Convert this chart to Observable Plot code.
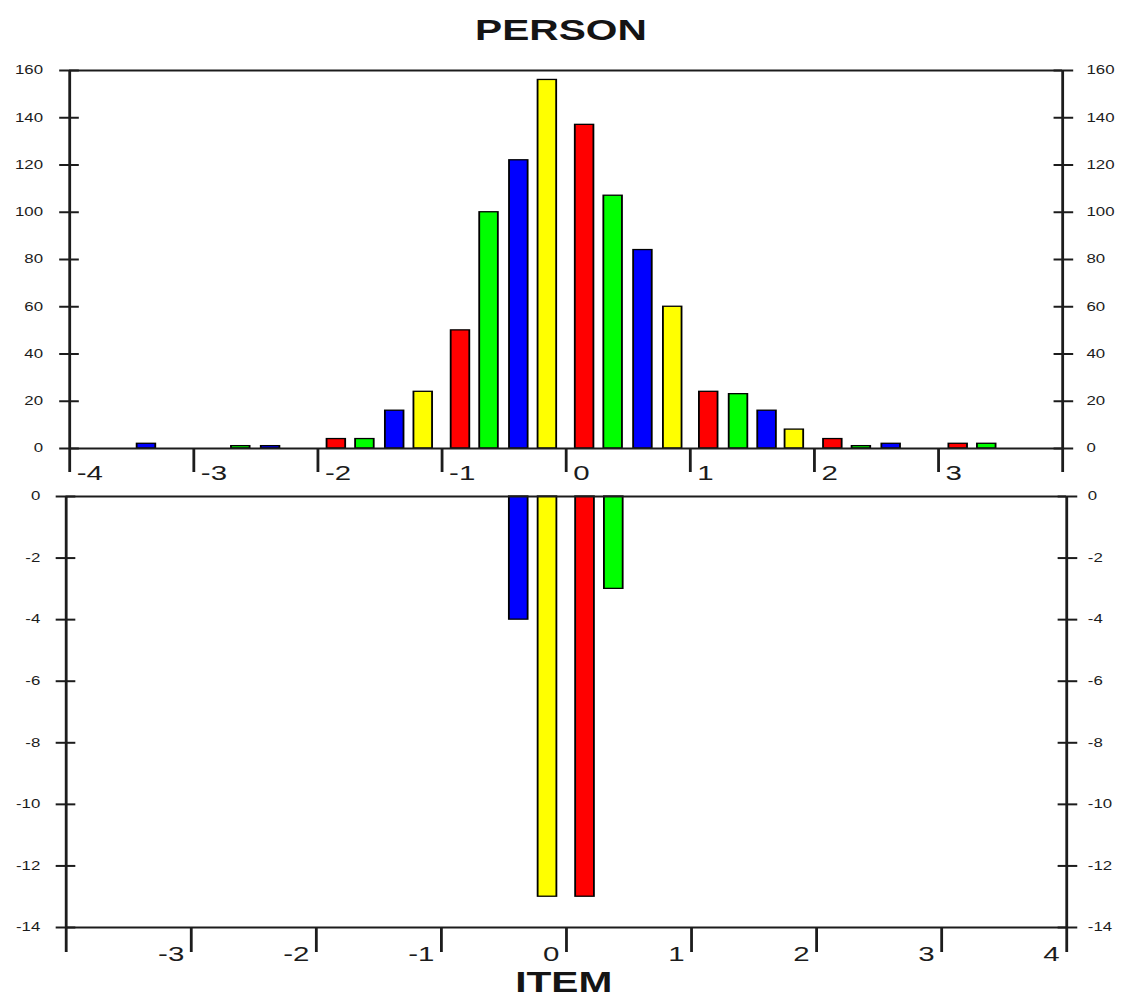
<!DOCTYPE html>
<html>
<head>
<meta charset="utf-8">
<script src="https://cdn.jsdelivr.net/npm/d3@7"></script>
<script src="https://cdn.jsdelivr.net/npm/@observablehq/plot@0.6"></script>
<style>
  html, body { margin: 0; padding: 0; background: #fff; overflow: hidden; }
  /* the map is laid out 800 wide and stretched across the 1122 px window */
  #stage {
    position: relative; width: 800px; height: 999px;
    transform: scaleX(1.4025); transform-origin: 0 0;
    font-family: "Liberation Sans", Arial, sans-serif; color: #141414;
  }
  #stage svg { position: absolute; left: 0; overflow: visible; background: transparent; }
  .heading {
    position: absolute; left: 0; width: 800px; text-align: center;
    font-weight: bold; font-size: 29px; line-height: 29px; white-space: nowrap;
  }
</style>
</head>
<body>
<div id="stage">
  <div class="heading" style="top:15.5px">PERSON</div>
  <div class="heading" style="top:968px;left:2px">ITEM</div>
</div>
<script>
// Person distribution (counts per measure bin, upper panel)
const personMeasure = [-3.38, -2.62, -2.38, -1.85, -1.62, -1.38, -1.15,
  -0.85, -0.62, -0.38, -0.15, 0.15, 0.38, 0.62, 0.86,
  1.15, 1.39, 1.62, 1.84, 2.15, 2.38, 2.62, 3.16, 3.39];
const personCount = [2, 1, 1, 4, 4, 16, 24,
  50, 100, 122, 156, 137, 107, 84, 60,
  24, 23, 16, 8, 4, 1, 2, 2, 2];

// Item distribution (drawn downward, lower panel)
const itemMeasure = [-0.38, -0.15, 0.15, 0.38];
const itemCount = [-4, -13, -13, -3];

// Axis ticks
const measureTicks = [-4, -3, -2, -1, 0, 1, 2, 3, 4];
const personTicks = [0, 20, 40, 60, 80, 100, 120, 140, 160];
const itemTicks = [0, -2, -4, -6, -8, -10, -12, -14];

const person = personMeasure.map((x, i) => ({x, count: personCount[i]}));
const item = itemMeasure.map((x, i) => ({x, count: itemCount[i]}));

// bars cycle red, green, blue, yellow across the quarters of each logit unit
const quarterColors = ["#ff0000", "#00ff00", "#0000ff", "#ffff00"];
const quarter = (x) => Math.floor((x - Math.floor(x)) * 4);
const halfBar = 0.075;
const ink = "#1c1c1c";
const fmt = (d) => String(d);

function bars(data) {
  return Plot.rectY(data, {
    x1: (d) => d.x - halfBar,
    x2: (d) => d.x + halfBar,
    y1: 0,
    y2: "count",
    fill: (d) => quarterColors[quarter(d.x)],
    stroke: "#000",
    strokeWidth: 1.3
  });
}

function yAxes(ticks, padLeft, padRight) {
  return [
    Plot.axisY(ticks, {anchor: "left", tickSize: 14, dx: 7, fill: "none", stroke: ink, strokeWidth: 2, label: null}),
    Plot.axisY(ticks, {anchor: "left", tickSize: 0, tickPadding: padLeft, stroke: "none", fill: ink, fontSize: 12, tickFormat: fmt, label: null}),
    Plot.axisY(ticks, {anchor: "right", tickSize: 14, dx: -7, fill: "none", stroke: ink, strokeWidth: 2, label: null}),
    Plot.axisY(ticks, {anchor: "right", tickSize: 0, tickPadding: padRight, stroke: "none", fill: ink, fontSize: 12, tickFormat: fmt, label: null})
  ];
}

const font = {fontFamily: "'Liberation Sans', Arial, sans-serif", background: "transparent", overflow: "visible"};

const upper = Plot.plot({
  width: 800,
  height: 500,
  marginLeft: 49.2,
  marginRight: 42.8,
  marginTop: 70,
  marginBottom: 52,
  style: font,
  x: {domain: [-4, 4], label: null},
  y: {domain: [0, 160], label: null},
  marks: [
    bars(person),
    Plot.ruleY([0, 160], {stroke: ink, strokeWidth: 2}),
    Plot.ruleX([-4, 4], {stroke: ink, strokeWidth: 2}),
    Plot.axisX(measureTicks, {anchor: "bottom", tickSize: 24, fill: "none", stroke: ink, strokeWidth: 2, label: null}),
    Plot.axisX(measureTicks.slice(0, -1), {anchor: "bottom", tickSize: 0, tickPadding: 17, stroke: "none", fill: ink,
      fontSize: 21, textAnchor: "start", dx: 5, tickFormat: fmt, label: null}),
    ...yAxes(personTicks, 19, 17)
  ]
});

const lower = Plot.plot({
  width: 800,
  height: 529,
  marginLeft: 46.7,
  marginRight: 39.9,
  marginTop: 26,
  marginBottom: 72,
  style: font,
  x: {domain: [-4, 4], label: null},
  y: {domain: [-14, 0], label: null},
  marks: [
    bars(item),
    Plot.ruleY([0, -14], {stroke: ink, strokeWidth: 2}),
    Plot.ruleX([-4, 4], {stroke: ink, strokeWidth: 2}),
    Plot.axisX(measureTicks, {anchor: "bottom", tickSize: 25, fill: "none", stroke: ink, strokeWidth: 2, label: null}),
    Plot.axisX(measureTicks.slice(1), {anchor: "bottom", tickSize: 0, tickPadding: 19, stroke: "none", fill: ink,
      fontSize: 21, textAnchor: "end", dx: -5, tickFormat: fmt, label: null}),
    ...yAxes(itemTicks, 18.5, 15)
  ]
});

upper.style.top = "0px";
lower.style.top = "470px";
const stage = document.getElementById("stage");
stage.appendChild(upper);
stage.appendChild(lower);
</script>
</body>
</html>
